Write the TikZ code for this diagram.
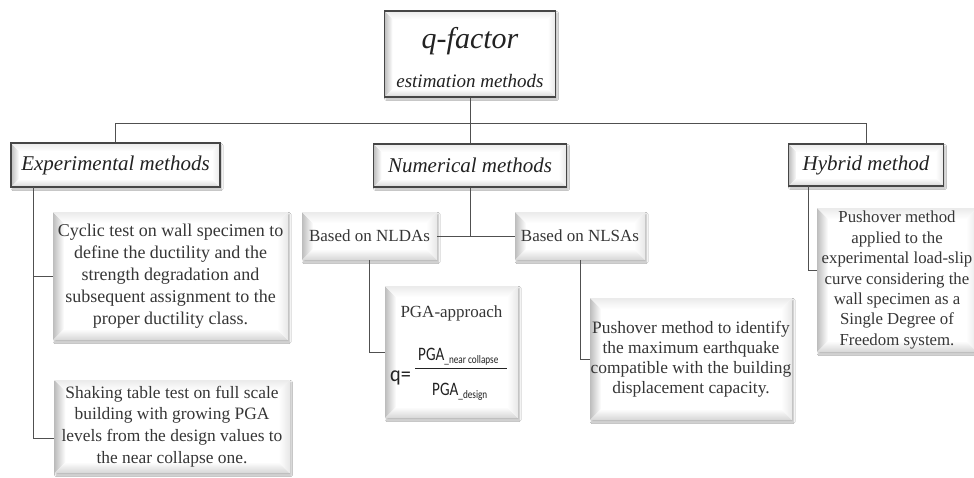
\documentclass[tikz,border=0pt]{standalone}
\usepackage{fontspec}
\setmainfont{Liberation Serif}
\newfontfamily\calib{Carlito}
\usetikzlibrary{shadows,shadows.blur,calc}
\definecolor{txt}{HTML}{363636}
\definecolor{htxt}{HTML}{222222}
\definecolor{lnc}{HTML}{505050}
\definecolor{brd}{HTML}{464646}
\newcommand\bevelfill[1]{%
 \path (path picture bounding box.south west) coordinate (bSW)
       (path picture bounding box.north east) coordinate (bNE)
       (path picture bounding box.north west) coordinate (bNW)
       (path picture bounding box.south east) coordinate (bSE);
 \shade[left color=black!26, right color=white] (bSW) -- (bNW) -- ([shift={(#1pt,-#1pt)}]bNW) -- ([shift={(#1pt,#1pt)}]bSW) -- cycle;
 \shade[top color=black!8, bottom color=white] (bNW) -- (bNE) -- ([shift={(-#1pt,-#1pt)}]bNE) -- ([shift={(#1pt,-#1pt)}]bNW) -- cycle;
 \shade[bottom color=black!16, top color=white] (bSW) -- (bSE) -- ([shift={(-#1pt,#1pt)}]bSE) -- ([shift={(#1pt,#1pt)}]bSW) -- cycle;
 \shade[right color=black!9, left color=white] (bSE) -- (bNE) -- ([shift={(-#1pt,-#1pt)}]bNE) -- ([shift={(-#1pt,#1pt)}]bSE) -- cycle;
}
\tikzset{
  boxbase/.style={rectangle, inner sep=0pt, fill=white, align=center,
     blur shadow={shadow xshift=1.5pt, shadow yshift=-2pt, shadow blur steps=5, shadow blur radius=1.5pt, shadow opacity=28}},
  subbox/.style={boxbase, text=txt, path picture={\bevelfill{11}}, font=\fontsize{18}{22}\selectfont},
  headbox/.style={boxbase, text=htxt, draw=brd, line width=1.2pt, path picture={\bevelfill{8}}, font=\fontsize{21}{24}\selectfont\itshape},
  conn/.style={draw=lnc, line width=1pt},
  plain/.style={inner sep=0pt, text=htxt},
}
\begin{document}
\begin{tikzpicture}[x=1pt,y=-1pt]
\useasboundingbox (0,0) rectangle (974,477);
\clip (0,0) rectangle (974,477);
\fill[white] (0,0) rectangle (974,477);

% heads
\node[headbox, minimum width=171, minimum height=86] (qf) at (470,54) {};
\node[plain, anchor=base, font=\fontsize{30}{32}\selectfont\itshape] (qfa) at (470,48) {q-factor};
\node[plain, anchor=base, font=\fontsize{19}{22}\selectfont\itshape] (qfb) at (470,87) {estimation methods};

\node[headbox, minimum width=209, minimum height=44] (exp) at (115.5,165) {Experimental methods};
\node[headbox, minimum width=193, minimum height=43] (num) at (470,165.5) {Numerical methods};
\node[headbox, minimum width=155, minimum height=42] (hyb) at (866,165) {Hybrid method};

% sub boxes
\node[subbox, minimum width=235, minimum height=128] (cyc) at (170.5,276)
  {Cyclic test on wall specimen to\\define the ductility and the\\strength degradation and\\subsequent assignment to the\\proper ductility class.};
\node[subbox, minimum width=235, minimum height=93, font=\fontsize{17.4}{21.6}\selectfont] (shk) at (172,426.5)
  {Shaking table test on full scale\\building with growing PGA\\levels from the design values to\\the near collapse one.};
\node[subbox, minimum width=135, minimum height=48, font=\fontsize{17}{20}\selectfont] (nlda) at (369.5,236) {Based on NLDAs};
\node[subbox, minimum width=130, minimum height=48, font=\fontsize{17}{20}\selectfont] (nlsa) at (580,236) {Based on NLSAs};
\node[subbox, minimum width=133, minimum height=132] (pga) at (451.5,352) {};
\node[subbox, minimum width=202, minimum height=122, font=\fontsize{17.4}{20}\selectfont] (push) at (691,359)
  {Pushover method to identify\\the maximum earthquake\\compatible with the building\\displacement capacity.};
\node[subbox, minimum width=160, minimum height=144, font=\fontsize{16.8}{20.4}\selectfont] (hybt) at (897,280)
  {Pushover method\\applied to the\\experimental load-slip\\curve considering the\\wall specimen as a\\Single Degree of\\Freedom system.};

% PGA content
\node[plain, text=txt, anchor=base, font=\fontsize{17}{20}\selectfont] (pgat) at (451.5,317) {PGA-approach};
\node[plain, anchor=base west, font=\calib\fontsize{22}{22}\selectfont] (pgaq) at (390,381) {\scalebox{0.92}[1]{q=}};
\node[plain, anchor=base west, font=\calib\fontsize{19}{20}\selectfont] (pgan) at (418,360)
  {\scalebox{0.8}[1]{PGA\raisebox{-3pt}{\fontsize{11.5}{12}\selectfont\_near collapse}}};
\node[plain, anchor=base west, font=\calib\fontsize{19}{20}\selectfont] (pgad) at (432,395)
  {\scalebox{0.8}[1]{PGA\raisebox{-3pt}{\fontsize{11.5}{12}\selectfont\_design}}};
\coordinate (barl) at (415,368);
\coordinate (barr) at (507,368);
\draw[htxt, line width=0.9pt] (barl) -- (barr);

% connectors
\coordinate (jl) at (115.5,123);
\coordinate (jr) at (866,123);
\draw[conn] (qf.south) -- (num.north);
\draw[conn] (exp.north) -- (jl) -- (jr) -- (hyb.north);

\coordinate (ev) at (33,187);
\coordinate (evb) at (33,438);
\draw[conn] (ev) -- (evb) -- (evb -| shk.west);
\draw[conn] (ev |- cyc.west) -- (cyc.west);

\draw[conn] (num.south) -- (num.south |- nlda.east);
\draw[conn] (nlda.east) -- (nlsa.west);
\draw[conn] (nlda.south) |- (pga.west);
\draw[conn] (nlsa.south) |- (push.west);

\coordinate (hv) at (808,186);
\coordinate (hvb) at (808,270);
\draw[conn] (hv) -- (hvb) -- (hvb -| hybt.west);
\end{tikzpicture}
\end{document}
